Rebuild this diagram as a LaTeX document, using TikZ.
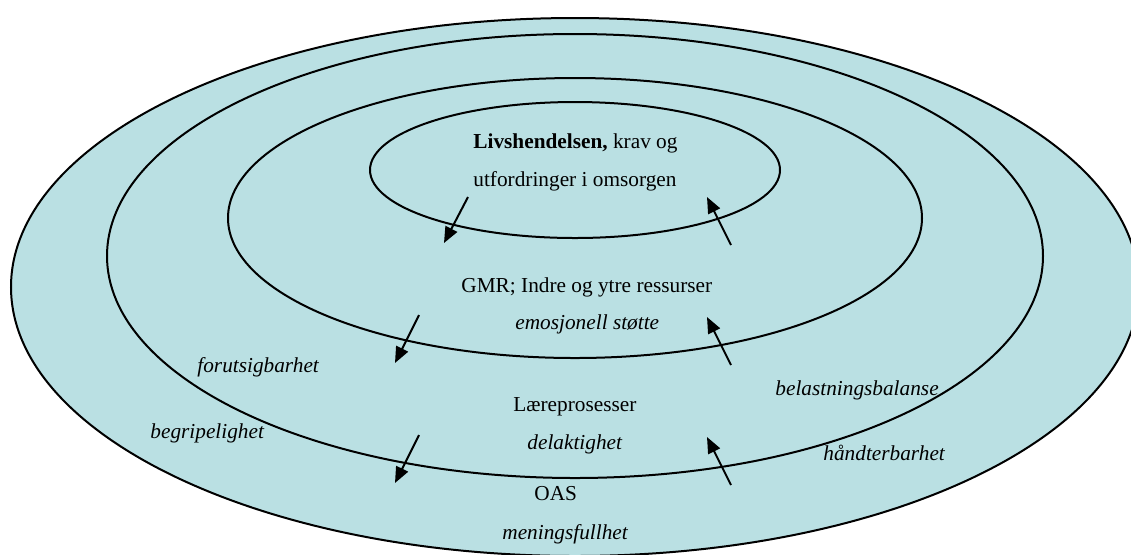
\documentclass[tikz,border=0pt]{standalone}
\usepackage{fontspec}
\setmainfont{Liberation Serif}
\usetikzlibrary{arrows.meta}
\definecolor{fillc}{RGB}{186,224,227}
\tikzset{
  ring/.style={draw=black, line width=1pt, fill=fillc},
  lbl/.style={anchor=base west, inner sep=0pt, font=\fontsize{10.65}{12}\selectfont},
  ilbl/.style={anchor=base west, inner sep=0pt, font=\fontsize{10.65}{12}\selectfont\itshape},
  flow/.style={draw=black, line width=1pt, -{Triangle[length=8pt,width=6.5pt]}}
}
\begin{document}
\begin{tikzpicture}[x=0.5pt,y=-0.5pt]
\useasboundingbox (0,0) rectangle (1131,554);
\clip (0,0) rectangle (1131,554);
% rings
\path[ring] (575,287) ellipse [x radius=564, y radius=269];
\path[ring] (575,256) ellipse [x radius=468, y radius=222];
\path[ring] (575,218) ellipse [x radius=347, y radius=140];
\path[ring] (575,170) ellipse [x radius=205, y radius=68];
% texts
\node[lbl] (t1) at (473,148.5) {\textbf{Livshendelsen,} krav og};
\node[lbl] (t2) at (473,186.5) {utfordringer i omsorgen};
\node[lbl] (t3) at (461,292) {GMR; Indre og ytre ressurser};
\node[ilbl] (t4) at (515,329) {emosjonell støtte};
\node[ilbl] (t5) at (197,372) {forutsigbarhet};
\node[lbl] (t6) at (513,411) {Læreprosesser};
\node[ilbl] (t7) at (527,449) {delaktighet};
\node[ilbl] (t8) at (150,438) {begripelighet};
\node[lbl] (t9) at (534,500) {OAS};
\node[ilbl] (t10) at (502,539) {meningsfullhet};
\node[ilbl] (t11) at (775,395) {belastningsbalanse};
\node[ilbl] (t12) at (823,460) {håndterbarhet};
% arrow ends
\coordinate (a1s) at (468,197); \coordinate (a1e) at (444,243);
\coordinate (a2s) at (731,245); \coordinate (a2e) at (707,197);
\coordinate (a3s) at (419,315); \coordinate (a3e) at (395,363);
\coordinate (a4s) at (731,365); \coordinate (a4e) at (707,317);
\coordinate (a5s) at (419,435); \coordinate (a5e) at (395,483);
\coordinate (a6s) at (731,485); \coordinate (a6e) at (707,437);
\draw[flow] (a1s) -- (a1e);
\draw[flow] (a2s) -- (a2e);
\draw[flow] (a3s) -- (a3e);
\draw[flow] (a4s) -- (a4e);
\draw[flow] (a5s) -- (a5e);
\draw[flow] (a6s) -- (a6e);
\end{tikzpicture}
\end{document}
